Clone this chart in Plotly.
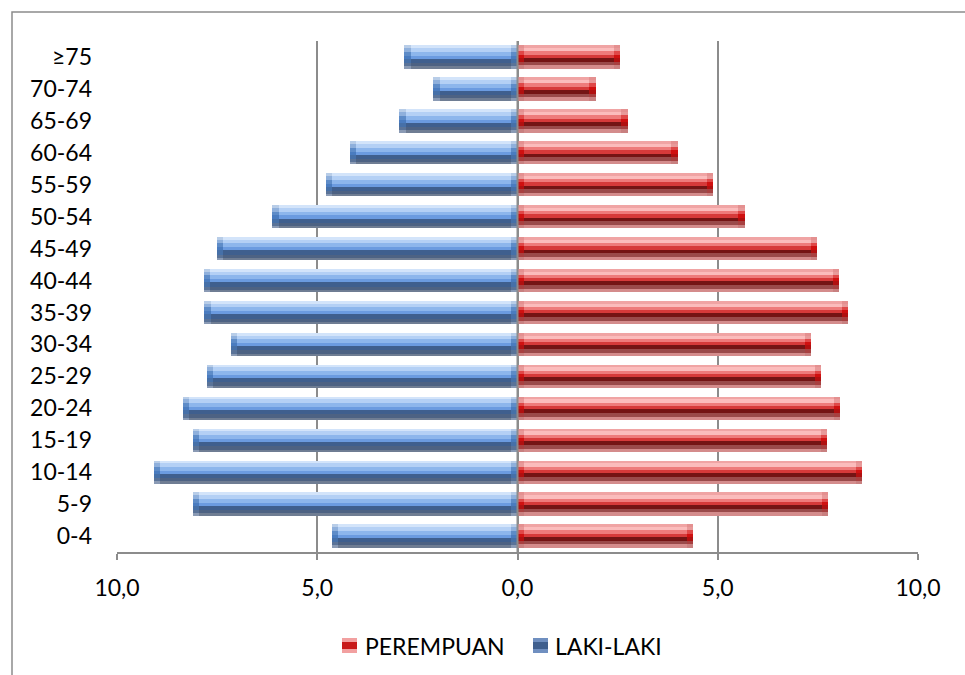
import plotly.graph_objects as go

# Age groups (bottom to top) and population share (%) by sex
age_groups = ["0-4", "5-9", "10-14", "15-19", "20-24", "25-29", "30-34", "35-39",
              "40-44", "45-49", "50-54", "55-59", "60-64", "65-69", "70-74", "≥75"]
laki_laki = [4.64, 8.11, 9.08, 8.11, 8.36, 7.76, 7.16, 7.82,
             7.83, 7.51, 6.12, 4.79, 4.19, 2.95, 2.10, 2.83]
perempuan = [4.39, 7.76, 8.61, 7.74, 8.06, 7.59, 7.34, 8.26,
             8.03, 7.49, 5.67, 4.89, 4.00, 2.75, 1.95, 2.57]

tick_values = [-10, -5, 0, 5, 10]
tick_labels = ["10,0", "5,0", "0,0", "5,0", "10,0"]
series_names = ["PEREMPUAN", "LAKI-LAKI"]

FONT = "Lato"
FSIZE = 23
BAR_HALF = 0.365
CAP = 0.16  # length of the bevelled bar ends, in data units

# Horizontal shading bands: (top fraction, bottom fraction, body colour, end-cap colour)
blue_bands = [
    (1.00, 0.88, "#d3e4fa", "#b8cde8"),
    (0.88, 0.72, "#b4d0f5", "#8fb0dc"),
    (0.72, 0.55, "#8db6ec", "#5e8cc8"),
    (0.55, 0.42, "#6b9be0", "#4a7cc0"),
    (0.42, 0.24, "#3f5f8e", "#4670a8"),
    (0.24, 0.10, "#4d6283", "#5a7398"),
    (0.10, 0.00, "#6f7d93", "#8a9ab4"),
]
red_bands = [
    (1.00, 0.88, "#f0a4a4", "#e49090"),
    (0.88, 0.74, "#fbbcbc", "#e89a9a"),
    (0.74, 0.60, "#ee7b7b", "#e04848"),
    (0.60, 0.46, "#d63a3a", "#d01010"),
    (0.46, 0.30, "#741414", "#b01010"),
    (0.30, 0.14, "#9a4a4a", "#a84040"),
    (0.14, 0.00, "#d48c8c", "#c88080"),
]

fig = go.Figure()


def add_series(values, bands, sign):
    xs = [sign * v for v in values]
    outer_base = [sign * v - sign * CAP if sign > 0 else -v for v in values]
    inner_base = [0 if sign > 0 else -CAP for _ in values]
    caps = [CAP for _ in values]
    for top, bottom, color, cap_color in bands:
        off = -BAR_HALF + bottom * 2 * BAR_HALF
        w = (top - bottom) * 2 * BAR_HALF
        fig.add_trace(go.Bar(
            y=age_groups, x=xs, orientation="h",
            width=w, offset=off,
            marker=dict(color=color, line=dict(width=0)),
            showlegend=False, hoverinfo="skip",
        ))
        for base in (outer_base, inner_base):
            fig.add_trace(go.Bar(
                y=age_groups, x=caps, base=base, orientation="h",
                width=w, offset=off,
                marker=dict(color=cap_color, line=dict(width=0)),
                showlegend=False, hoverinfo="skip",
            ))


add_series(perempuan, red_bands, 1)
add_series(laki_laki, blue_bands, -1)

left, right, top, bottom = 117, 47, 41, 123
plot_h = 675 - top - bottom
plot_w = 965 - left - right


def px(xp):
    return (xp - left) / plot_w


def py(yp):
    return (675 - bottom - yp) / plot_h


# Outer frame and the zero axis drawn over the bars
shapes = [
    dict(
        type="rect", xref="paper", yref="paper",
        x0=px(12), x1=px(980), y0=py(690), y1=py(12),
        line=dict(color="#8c8c8c", width=1.5), fillcolor="rgba(0,0,0,0)",
        layer="below",
    ),
    dict(
        type="line", xref="x", yref="paper", x0=0, x1=0, y0=0, y1=1,
        line=dict(color="#8c8c8c", width=2), layer="above",
    ),
]

# Legend drawn as small squares with labels
legend_items = [
    (series_names[0], 342, 363, ["#f2a0a0", "#c81a1a"]),
    (series_names[1], 533, 553, ["#6f8fc0", "#3f5f8e"]),
]
annotations = []
for name, sx, tx, cols in legend_items:
    shapes.append(dict(
        type="rect", xref="paper", yref="paper",
        x0=px(sx), x1=px(sx + 15), y0=py(653), y1=py(638),
        line=dict(width=0), fillcolor=cols[0],
    ))
    shapes.append(dict(
        type="rect", xref="paper", yref="paper",
        x0=px(sx), x1=px(sx + 15), y0=py(649), y1=py(642),
        line=dict(width=0), fillcolor=cols[1],
    ))
    annotations.append(dict(
        text=name, xref="paper", yref="paper", x=px(tx), y=py(645.5),
        xanchor="left", yanchor="middle", showarrow=False,
        font=dict(family=FONT, size=FSIZE, color="black"),
    ))

fig.update_layout(
    width=965, height=675,
    margin=dict(l=left, r=right, t=top, b=bottom, pad=0),
    barmode="overlay",
    bargap=0,
    showlegend=False,
    plot_bgcolor="white", paper_bgcolor="white",
    font=dict(family=FONT, size=FSIZE, color="black"),
    xaxis=dict(
        range=[-10, 10], tickvals=tick_values, ticktext=tick_labels,
        showgrid=True, gridcolor="#8c8c8c", gridwidth=2,
        zeroline=False,
        showline=True, linecolor="#8c8c8c", linewidth=2,
        ticks="outside", ticklen=6, tickcolor="#8c8c8c", tickwidth=2,
        ticklabelstandoff=8,
        tickfont=dict(family=FONT, size=FSIZE, color="black"),
        fixedrange=True, layer="below traces",
    ),
    yaxis=dict(
        categoryorder="array", categoryarray=age_groups,
        showgrid=False, zeroline=False, showline=False, ticks="",
        ticklabelstandoff=24,
        tickfont=dict(family=FONT, size=FSIZE, color="black"),
        fixedrange=True,
    ),
    shapes=shapes,
    annotations=annotations,
)

fig.write_html("out.html")
